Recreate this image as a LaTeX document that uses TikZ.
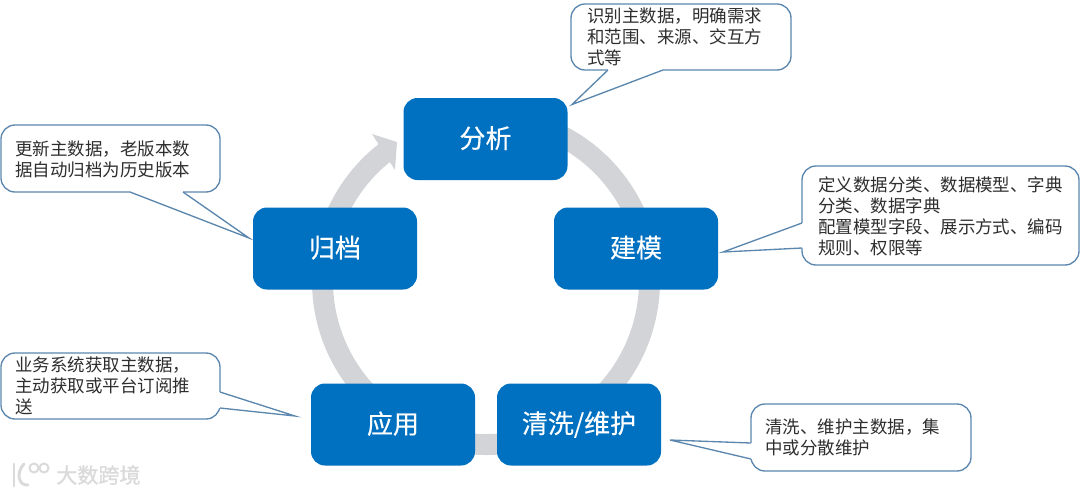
\documentclass[tikz,border=0pt]{standalone}
\usepackage{fontspec}
\setmainfont{Noto Sans CJK SC}
\newfontfamily\boldish[FakeBold=0.35]{Noto Sans CJK SC}
\newfontfamily\markfont[FakeBold=1.2]{Noto Sans CJK SC}
\definecolor{boxblue}{HTML}{0070C0}
\definecolor{ringgray}{HTML}{D3D4D8}
\definecolor{edgeblue}{HTML}{5B87AE}
\definecolor{bodytext}{HTML}{2E2E2E}
\definecolor{markgray}{HTML}{DADADA}
\tikzset{
  x=0.75pt,y=-0.75pt,
  stagebox/.style={fill=boxblue,draw=none,rounded corners=10.5pt,minimum width=123pt,minimum height=61.5pt,inner sep=0pt,text=white,font=\boldish\fontsize{19.5pt}{24pt}\selectfont,anchor=center},
  bubble/.style={draw=edgeblue,line width=1pt,line join=miter},
  bubbletext/.style={anchor=west,align=left,inner sep=0pt,text=bodytext,font=\fontsize{13.1pt}{15.75pt}\selectfont},
  wm/.style={draw=markgray,line width=2.2pt,line cap=round}
}
\newcommand{\lifted}[1]{\raisebox{3pt}{#1}}
% #1 tail start, #2 tip, #3 tail end, #4 step into the bubble
\newcommand{\bubbletail}[4]{%
  \fill[white] (#1) -- (#2) -- (#3) -- ([shift={(#4)}]#3) -- ([shift={(#4)}]#1) -- cycle;
  \draw[bubble] (#1) -- (#2) -- (#3);
}
\begin{document}
\begin{tikzpicture}
\useasboundingbox (0,0) rectangle (1080,494);
% ring
\coordinate (ringc) at (486,281);
\draw[ringgray,line width=15.75pt] ([shift={(232:163.5)}]ringc) arc[start angle=232,end angle=-92,radius=163.5];
\fill[ringgray] (372,134) -- (397,142) -- (395,170) -- cycle;
% stages
\node[stagebox] (fx) at (485.5,139) {\lifted{分析}};
\node[stagebox] (jm) at (636,248.5) {\lifted{建模}};
\node[stagebox] (gd) at (335,248.5) {\lifted{归档}};
\node[stagebox] (yy) at (393,424.5) {\lifted{应用}};
\node[stagebox] (qx) at (579,424.5) {\lifted{清洗/维护}};
% callouts
\draw[bubble,fill=white,rounded corners=10.5pt] (571,4) rectangle (791,70);
\bubbletail{663,70}{572,104.5}{608,70}{0,-3}
\node[bubbletext] (t1) at (587,37) {识别主数据，明确需求\\和范围、来源、交互方\\式等};
\draw[bubble,fill=white,rounded corners=10.5pt] (1,125) rectangle (220,192);
\bubbletail{183,192}{249,238}{130,192}{0,-3}
\node[bubbletext] (t2) at (15,159) {更新主数据，老版本数\\据自动归档为历史版本};
\draw[bubble,fill=white,rounded corners=10.5pt] (802,166) rectangle (1079,265);
\bubbletail{802,248}{723,252}{802,223}{3,0}
\node[bubbletext] (t3) at (818,216) {定义数据分类、数据模型、字典\\分类、数据字典\\配置模型字段、展示方式、编码\\规则、权限等};
\draw[bubble,fill=white,rounded corners=10.5pt] (1,353) rectangle (220,419);
\bubbletail{220,392}{295,416}{220,408}{-3,0}
\node[bubbletext] (t4) at (15,386) {业务系统获取主数据，\\主动获取或平台订阅推\\送};
\draw[bubble,fill=white,rounded corners=10.5pt] (751,404) rectangle (971,471);
\bubbletail{751,459}{670,440}{751,443}{3,0}
\node[bubbletext] (t5) at (765,437) {清洗、维护主数据，集\\中或分散维护};
% watermark
\draw[wm] (14,464) -- (14,486);
\draw[wm] (24,464) .. controls (16,472) and (18,486) .. (28,485);
\draw[wm,line width=1.5pt] (34,468) circle[radius=4.5];
\draw[wm,line width=1.5pt] (44,468) circle[radius=4.5];
\node[anchor=west,inner sep=0pt,text=markgray,font=\markfont\fontsize{15.8pt}{18pt}\selectfont] (wmt) at (56,475) {大数跨境};
\end{tikzpicture}
\end{document}
